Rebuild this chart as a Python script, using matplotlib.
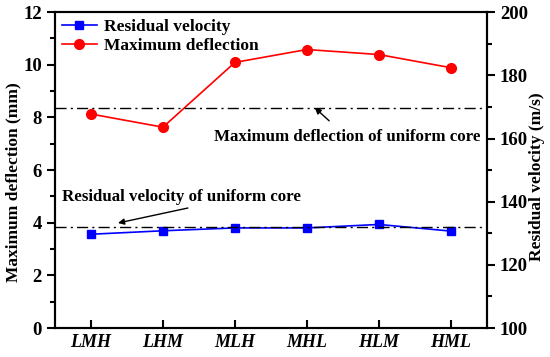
import matplotlib
matplotlib.use("Agg")
import matplotlib.pyplot as plt

plt.rcParams["font.family"] = ["Liberation Serif", "DejaVu Serif"]
plt.rcParams["font.weight"] = "bold"

categories = ["LMH", "LHM", "MLH", "MHL", "HLM", "HML"]
max_deflection = [8.13, 7.63, 10.09, 10.58, 10.39, 9.89]
residual_velocity = [129.7, 130.8, 131.7, 131.7, 132.8, 130.7]
uniform_deflection = 8.37
uniform_velocity = 132.0

x = list(range(1, len(categories) + 1))

fig = plt.figure(figsize=(5.5, 3.57), dpi=100)
ax = fig.add_axes([0.1, 0.081, 0.785, 0.885])
ax2 = ax.twinx()

ax.plot(x, max_deflection, "-o", color="#ff0000", lw=1.2, ms=7, label="Maximum deflection")
ax2.plot(x, residual_velocity, "-s", color="#0000ff", lw=1.2, ms=6, label="Residual velocity")
ax.axhline(uniform_deflection, color="black", ls=(0, (8, 3, 1.5, 3)), lw=1)
ax2.axhline(uniform_velocity, color="black", ls=(0, (8, 3, 1.5, 3)), lw=1)

ax.set_xlim(0.5, 6.5)
ax.set_ylim(0, 12)
ax2.set_ylim(100, 200)
ax.set_xticks(x)
ax.set_xticklabels(categories, fontstyle="italic", fontsize=13, fontweight="bold")
ax.set_yticks(range(0, 13, 2))
ax.set_yticks(range(1, 12, 2), minor=True)
ax2.set_yticks(range(100, 201, 20))
ax2.set_yticks(range(110, 200, 20), minor=True)

ax.tick_params(axis="x", direction="in", length=6, width=1.5, pad=4)
ax.tick_params(axis="y", which="major", direction="out", length=6, width=1.5, labelsize=13.5)
ax.tick_params(axis="y", which="minor", direction="out", length=3.5, width=1.5)
ax2.tick_params(axis="y", which="major", direction="out", length=6, width=1.5, labelsize=13.5)
ax2.tick_params(axis="y", which="minor", direction="out", length=3.5, width=1.5)
for a in (ax, ax2):
    for s in a.spines.values():
        s.set_linewidth(1.5)

ax.set_ylabel("Maximum deflection (mm)", fontsize=12.5, fontweight="bold")
ax2.set_ylabel("Residual velocity (m/s)", fontsize=12.5, fontweight="bold")
ax.yaxis.set_label_coords(-0.078, 0.462)
ax2.yaxis.set_label_coords(1.097, 0.478)

ax.annotate("Maximum deflection of uniform core", xy=(4.11, uniform_deflection),
            xytext=(4.56, 7.25), ha="center", va="center", fontsize=12.2, fontweight="bold",
            arrowprops=dict(arrowstyle="-|>", color="black", lw=1, shrinkA=6, shrinkB=0,
                            mutation_scale=9))
ax.annotate("Residual velocity of uniform core", xy=(1.375, 3.99),
            xytext=(0.6, 4.97), ha="left", va="center", fontsize=12.2, fontweight="bold",
            arrowprops=dict(arrowstyle="-|>", color="black", lw=1, shrinkA=0, shrinkB=0,
                            mutation_scale=9, relpos=(0.58, 0)))

h1, l1 = ax2.get_legend_handles_labels()
h2, l2 = ax.get_legend_handles_labels()
ax.legend(h1 + h2, l1 + l2, loc="upper left", frameon=False, fontsize=12.5,
          handlelength=2.0, borderaxespad=0.0, labelspacing=0.15, handletextpad=0.4)

fig.savefig("out.png", dpi=100)
